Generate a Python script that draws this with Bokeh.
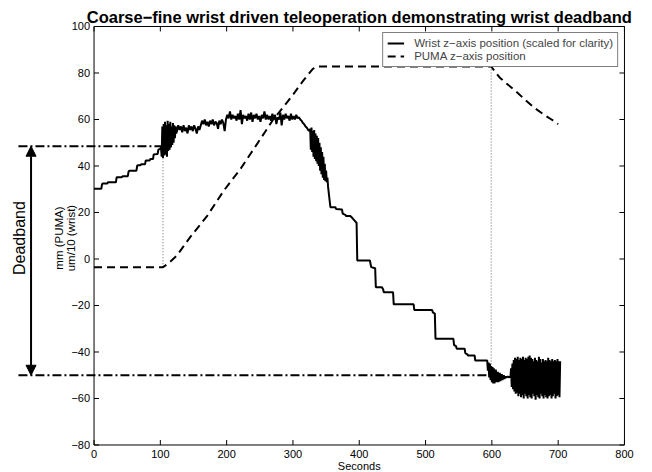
import numpy as np
from bokeh.plotting import figure
from bokeh.models import Range1d, Arrow, NormalHead, Legend, LegendItem
from bokeh.core.properties import value
from bokeh.embed import file_html
from bokeh.resources import INLINE

FONT = "Liberation Sans"

# ---------------- axes / tick data ----------------
x_min, x_max = 0, 800
y_min, y_max = -80, 100
x_ticks = [0, 100, 200, 300, 400, 500, 600, 700, 800]
x_tick_labels = ["0", "100", "200", "300", "400", "500", "600", "700", "800"]
y_ticks = [-80, -60, -40, -20, 0, 20, 40, 60, 80, 100]
y_tick_labels = ["\u221280", "\u221260", "\u221240", "\u221220", "0", "20", "40", "60", "80", "100"]

title_text = "Coarse\u2212fine wrist driven teleoperation demonstrating wrist deadband"
x_label = "Seconds"
y_label = "mm (PUMA)\num/10 (wrist)"
wrist_label = "Wrist z\u2212axis position (scaled for clarity)"
puma_label = "PUMA z\u2212axis position"
deadband_label = "Deadband"

# ---------------- PUMA z-axis position (dashed) ----------------
puma_t = [0, 104, 112, 125, 145, 171, 196, 221, 246, 271, 286, 301, 315, 322, 330, 337,
          599, 605, 612, 622, 635, 650, 665, 680, 690, 700]
puma_y = [-3.5, -3.5, -2.0, 1.5, 9.4, 18.7, 29.5, 38.8, 49.5, 60.3, 65.5, 71.0, 76.5, 79.0, 81.8, 82.8,
          82.8, 80.5, 78.0, 75.5, 72.5, 68.5, 64.8, 61.8, 60.0, 58.0]

# ---------------- Wrist z-axis position (solid) ----------------
wrist_t_steps = [0, 11, 12, 13, 20, 21, 33, 34, 35, 42, 43, 51, 52, 53, 64, 65, 66, 70, 71, 77,
                 78, 84, 85, 89, 90, 96, 97, 100, 101]
wrist_y_steps = [30.2, 30.2, 32, 32.5, 32.5, 33, 33, 35, 35.2, 35.2, 35.6, 35.6, 37.5, 38, 38, 40,
                 40.3, 40.3, 40.8, 40.8, 42.4, 42.4, 43, 43, 45, 45.2, 47, 47.4, 48]

wrist_t_burst = list(range(102, 125))
wrist_y_burst = [44, 57, 43.5, 58, 44.5, 59, 45, 57.5, 44, 59.5, 46.5, 58, 47, 59, 48, 57, 49,
                 58.5, 50, 57.5, 52, 57, 54]

wrist_t_rise = list(range(125, 160, 2)) + list(range(161, 198, 2))
wrist_y_rise = [55, 57.5, 55.5, 57, 54.5, 57.5, 55, 56.5, 54, 57.5, 55.5, 57, 55, 57.5, 56, 54, 57, 55.5,
                57.5, 59.5, 58, 60, 57.5, 59, 57, 59.5, 58, 60, 57.5, 59, 58.5, 56, 59.5, 58, 60, 58.5, 55]

wrist_t_plateau = list(range(199, 312, 2))
wrist_y_plateau = [60, 62, 60.5, 63.5, 60, 62, 60.5, 61.5, 59.5, 62.5,
                   60, 64, 58, 62, 60.5, 61.5, 59.5, 62.5, 60, 63,
                   59, 62, 60.5, 62.5, 60, 61.5, 59, 62, 60.5, 63.5,
                   60, 62, 60, 61.5, 59.5, 62.5, 60, 62, 58, 61,
                   60, 63, 57.5, 62, 60, 62.5, 60.5, 61.5, 59.5, 62.5,
                   60, 61.5, 60, 62, 60.5, 61, 60]

wrist_t_fall = list(range(313, 326, 2)) + list(range(326, 353))
wrist_y_fall = [59.5, 58.5, 58, 57, 56.5, 55.5, 55,
                56, 47, 56.5, 46, 55, 44, 55.5, 43, 54, 42, 53, 41, 52, 40, 50, 38, 48, 36.5,
                46, 35, 44, 34, 41, 33.5, 38, 33, 35]

wrist_t_descent = [353, 355, 356.5, 364, 365, 374, 375, 379, 380, 386.5,
                   390, 394, 396, 397, 416, 418, 424, 425, 434, 436,
                   437, 451, 452, 482, 483, 510, 511, 514, 515, 542,
                   543, 546, 547, 559, 560, 563, 564, 574, 575, 593]
wrist_y_descent = [31, 26, 22.3, 22.3, 21.5, 21.3, 19.5, 19, 18.5, 18.5,
                   17.5, 16.2, 15.5, -0.6, -0.6, -3.5, -4, -12.1, -12.1, -13,
                   -14.3, -14.3, -19.5, -19.5, -21.9, -21.9, -23, -23.5, -34.3, -34.3,
                   -37, -37.5, -38.6, -38.6, -40.5, -41, -41.5, -41.5, -43.7, -43.7]

wrist_t_settle = [594, 595, 596, 597, 598, 599, 600, 601, 602, 603, 604, 606, 607, 609, 610,
                  612, 613, 615, 616, 618, 619, 621, 622, 624, 626, 627]
wrist_y_settle = [-48, -44.5, -51, -45, -52, -46, -53, -46.5, -53.5, -47,
                  -53.5, -47.5, -53, -48.5, -53, -49, -52.5, -49.5, -52, -50,
                  -51.5, -50.5, -51, -50.5, -51, -50.5]

wrist_t_osc = list(range(628, 704))
wrist_y_osc = [-51, -47, -55, -45, -56, -43.5, -57, -42.5, -58, -43,
               -57.5, -42, -59, -43.5, -58, -42.5, -59.5, -43, -58.5, -42,
               -60, -43.5, -58, -42.5, -59, -43, -60, -42, -58.5, -41.5,
               -59.5, -42.5, -60, -43, -58, -44, -59, -42.5, -60.5, -43.5,
               -58.5, -44, -59.5, -42, -60, -43, -58, -44.5, -59, -43,
               -60, -44, -58.5, -43.5, -59.5, -44, -60, -42.5, -59, -43.5,
               -58.5, -44, -60, -43, -59, -44, -58, -43.5, -60, -44,
               -59, -43, -58.5, -44, -59.5, -44]

wrist_t = (wrist_t_steps + wrist_t_burst + wrist_t_rise + wrist_t_plateau + wrist_t_fall
           + wrist_t_descent + wrist_t_settle + wrist_t_osc)
wrist_y = (wrist_y_steps + wrist_y_burst + wrist_y_rise + wrist_y_plateau + wrist_y_fall
           + wrist_y_descent + wrist_y_settle + wrist_y_osc)
assert len(wrist_t) == len(wrist_y)

# ---------------- deadband annotation values ----------------
deadband_top = 48.5
deadband_bottom = -50.0
motion_start_t = 104
motion_stop_t = 599
puma_start_level = -3.5
puma_stop_level = 82.8
annot_left_t = -114
arrow_t = -95
deadband_text_t = -112
ylabel_t = -44
label_center_y = 9

# ---------------- figure (frame covers the whole canvas) ----------------
p = figure(width=650, height=471,
           x_range=Range1d(-141.07, 839.27), y_range=Range1d(-91.40, 111.18),
           output_backend="svg", toolbar_location=None,
           x_axis_location=None, y_axis_location=None,
           min_border_left=0, min_border_right=0, min_border_top=0, min_border_bottom=0)
p.grid.visible = False
p.outline_line_color = None
p.background_fill_color = "white"
p.border_fill_color = "white"

# axes box
p.segment(x0=[x_min, x_min, x_min, x_max], y0=[y_min, y_max, y_min, y_min],
          x1=[x_max, x_max, x_min, x_max], y1=[y_min, y_max, y_max, y_max],
          line_color="black", line_width=1)
# inward ticks
nx, ny = len(x_ticks), len(y_ticks)
p.ray(x=x_ticks, y=[y_min] * nx, length=5, length_units="screen", angle=np.pi / 2,
      line_color="black", line_width=1)
p.ray(x=x_ticks, y=[y_max] * nx, length=5, length_units="screen", angle=-np.pi / 2,
      line_color="black", line_width=1)
p.ray(x=[x_min] * ny, y=y_ticks, length=5, length_units="screen", angle=0,
      line_color="black", line_width=1)
p.ray(x=[x_max] * ny, y=y_ticks, length=5, length_units="screen", angle=np.pi,
      line_color="black", line_width=1)
# tick labels
p.text(x=x_ticks, y=[y_min] * nx, text=x_tick_labels, y_offset=5, text_align="center",
       text_baseline="top", text_font=value(FONT), text_font_size="11px", text_color="black")
p.text(x=[x_min] * ny, y=y_ticks, text=y_tick_labels, x_offset=-4, text_align="right",
       text_baseline="middle", text_font=value(FONT), text_font_size="11px", text_color="black")
# axis titles
p.text(x=[(x_min + x_max) / 2], y=[y_min], text=[x_label], y_offset=21.5, text_align="center",
       text_baseline="alphabetic", text_font=value(FONT), text_font_size="11px", text_color="black")
p.text(x=[ylabel_t], y=[label_center_y], text=[y_label], angle=np.pi / 2,
       text_align="center", text_baseline="middle", text_font=value(FONT),
       text_font_size="11.5px", text_color="black", text_line_height=1.0)
p.text(x=[(x_min + x_max) / 2], y=[y_max], text=[title_text], y_offset=-9, text_align="center",
       text_baseline="alphabetic", text_font=value(FONT), text_font_style="bold",
       text_font_size="16.5px", text_color="black")

# deadband lines
p.line([annot_left_t, motion_start_t], [deadband_top, deadband_top], line_color="black",
       line_width=1.8, line_dash="9 3 2 3")
p.line([annot_left_t, motion_stop_t], [deadband_bottom, deadband_bottom], line_color="black",
       line_width=1.8, line_dash="9 3 2 3")
p.line([motion_start_t, motion_start_t], [deadband_top, puma_start_level], line_color="#666666",
       line_width=1, line_dash="1 2")
p.line([motion_stop_t, motion_stop_t], [puma_stop_level, deadband_bottom], line_color="#666666",
       line_width=1, line_dash="1 2")

# data
rp = p.line(puma_t, puma_y, line_color="black", line_width=2, line_dash="8 5")
rw = p.line(wrist_t, wrist_y, line_color="black", line_width=2)

# deadband arrow + label
p.add_layout(Arrow(start=NormalHead(size=10, fill_color="black", line_color="black"),
                   end=NormalHead(size=10, fill_color="black", line_color="black"),
                   x_start=arrow_t, y_start=deadband_bottom, x_end=arrow_t, y_end=deadband_top,
                   line_color="black", line_width=2))
p.text(x=[deadband_text_t], y=[label_center_y], text=[deadband_label], angle=np.pi / 2,
       text_align="center", text_baseline="middle", text_font=value(FONT),
       text_font_size="16px", text_color="black")

legend = Legend(items=[LegendItem(label=wrist_label, renderers=[rw]),
                       LegendItem(label=puma_label, renderers=[rp])],
                location="top_right", margin=32, padding=4, spacing=1,
                glyph_width=17, glyph_height=10, label_height=10, label_standoff=10,
                label_text_font=FONT, label_text_font_size="11.5px",
                border_line_color="black", border_line_width=1,
                background_fill_color="white", background_fill_alpha=1)
p.add_layout(legend)

open("out.html", "w").write(file_html(p, INLINE))
